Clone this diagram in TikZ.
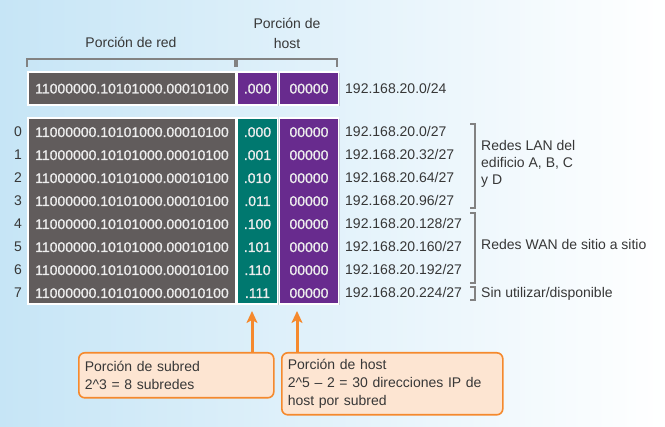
\documentclass[tikz,border=0pt]{standalone}
\usepackage{fontspec}
\setmainfont{Liberation Sans}
\newfontfamily\boxfam{Liberation Sans}[UprightFeatures={FakeBold=1}]
\usetikzlibrary{shadows,arrows.meta,calc}
\definecolor{bgL}{RGB}{198,229,246}
\definecolor{bgM}{RGB}{226,242,250}
\definecolor{netgray}{RGB}{97,92,92}
\definecolor{subteal}{RGB}{0,120,111}
\definecolor{hostpurple}{RGB}{104,43,142}
\definecolor{orng}{RGB}{245,137,45}
\definecolor{peach}{RGB}{253,229,210}
\definecolor{lbl}{RGB}{55,55,55}
\definecolor{brkc}{RGB}{130,130,130}
\newcommand\diafont{\fontsize{14}{18}\selectfont}
\newcommand\bitfont{\boxfam\fontsize{14}{18}\selectfont}

\begin{document}
\begin{tikzpicture}[x=1pt,y=-1pt,
 cell/.style={draw=white, line width=1.8pt, inner sep=0pt,
   drop shadow={shadow xshift=1pt, shadow yshift=-1pt, opacity=0.3}},
 one/.style={text height=10pt, text depth=0pt},
 bits/.style={text=white!93!black, font=\bitfont, inner sep=0pt, one},
 lbltext/.style={text=lbl, font=\diafont, inner sep=0pt},
 bracket/.style={draw=brkc, line width=1.2pt},
 callout/.style={draw=orng, line width=1.6pt, fill=peach, rounded corners=6pt,
   anchor=north west, align=left, font=\diafont, text=lbl, inner xsep=6pt, inner ysep=0pt},
 arr/.style={draw=orng, line width=3pt, -{Stealth[length=12pt,width=11pt,inset=3pt]}}]

\shade[left color=bgL, middle color=bgM, right color=white] (0,0) rectangle (665,427);
\useasboundingbox (0,0) rectangle (665,427);

% headers
\node[lbltext, one] (hdrNet) at (131,43) {Porción de red};
\node[lbltext, align=center, font=\fontsize{14}{20}\selectfont] (hdrHost) at (287,33) {Porción de\\host};
\draw[bracket] (27,67) -- (27,59) -- (235,59) -- (235,67);
\draw[bracket] (237,67) -- (237,59) -- (337,59) -- (337,67);

% top row
\node[cell, fill=netgray, minimum width=208pt, minimum height=33pt] (g0) at (132,88.5) {};
\node[cell, fill=hostpurple, minimum width=40pt, minimum height=33pt] (p0) at (257.5,88.5) {};
\node[cell, fill=hostpurple, minimum width=59pt, minimum height=33pt] (q0) at (309,88.5) {};
\node[bits] (tb) at (132,88.5) {11000000.10101000.00010100};
\node[bits] (ts) at (257.5,88.5) {.000};
\node[bits] (th) at (309,88.5) {00000};
\node[lbltext, one, anchor=west] (tip) at (345,88.5) {192.168.20.0/24};

% subnet block
\node[cell, fill=netgray, minimum width=208pt, minimum height=186pt] (gB) at (132,211) {};
\node[cell, fill=subteal, minimum width=40pt, minimum height=186pt] (tB) at (257.5,211) {};
\node[cell, fill=hostpurple, minimum width=59pt, minimum height=186pt] (pB) at (309,211) {};

\foreach \i/\s/\ip in {0/000/0,1/001/32,2/010/64,3/011/96,4/100/128,5/101/160,6/110/192,7/111/224} {
  \node[bits] (b\i) at (132,{132+23*\i}) {11000000.10101000.00010100};
  \node[bits] (s\i) at (257.5,{132+23*\i}) {.\s};
  \node[bits] (h\i) at (309,{132+23*\i}) {00000};
  \node[lbltext, one, anchor=west] (ip\i) at (345,{132+23*\i}) {192.168.20.\ip/27};
  \node[lbltext, one] (n\i) at (18,{132+23*\i}) {\i};
}

% right brackets
\draw[bracket] (470,124) -- (475,124) -- (475,208) -- (470,208);
\draw[bracket] (470,213) -- (475,213) -- (475,283) -- (470,283);
\draw[bracket] (470,287) -- (475,287) -- (475,300) -- (470,300);
\node[lbltext, align=left, anchor=west, font=\fontsize{14}{17}\selectfont] (lan) at (481,164) {Redes LAN del\\edificio A, B, C\\y D};
\node[lbltext, one, anchor=west] (wan) at (481,245) {Redes WAN de sitio a sitio};
\node[lbltext, one, anchor=west] (unused) at (481,293) {Sin utilizar/disponible};

% callouts
\node[callout, minimum width=195pt, minimum height=45pt, text width=183pt] (cL) at (78,352)
  {Porción de subred\\2\textasciicircum 3 = 8 subredes};
\node[callout, minimum width=221pt, minimum height=62pt, text width=209pt] (cR) at (281,352)
  {Porción de host\\2\textasciicircum 5 – 2 = 30 direcciones IP de\\host por subred};

\coordinate (aS) at (252,311);
\coordinate (aH) at (297,311);
\draw[arr] (cL.north -| aS) -- (aS);
\draw[arr] (cR.north -| aH) -- (aH);
\end{tikzpicture}
\end{document}
